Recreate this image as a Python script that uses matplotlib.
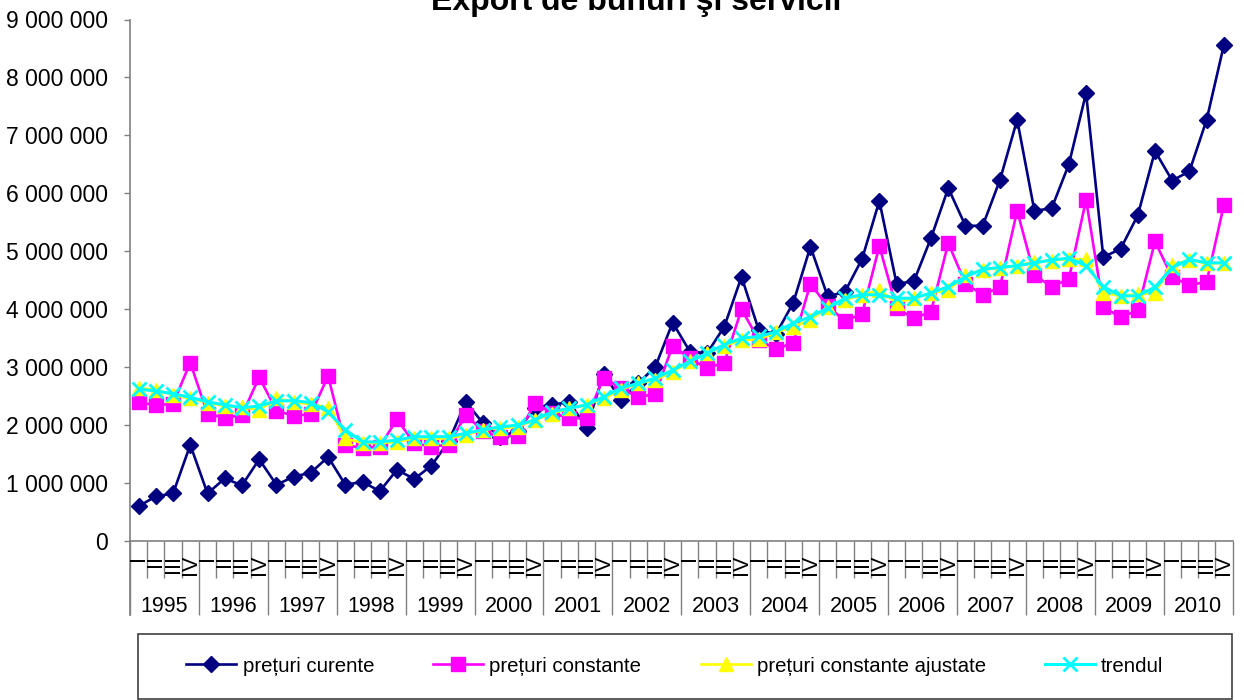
import matplotlib
matplotlib.use('Agg')
import matplotlib.pyplot as plt
from matplotlib.patches import Rectangle
from matplotlib.ticker import FuncFormatter

plt.rcParams['font.family'] = ['Liberation Sans', 'DejaVu Sans']

title = 'Export de bunuri şi servicii'
years = [str(y) for y in range(1995, 2011)]
quarters = ['I', 'II', 'III', 'IV']
series_names = ['prețuri curente', 'prețuri constante',
                'prețuri constante ajustate', 'trendul']

preturi_curente = [
    600000, 770000, 820000, 1660000,
    820000, 1080000, 960000, 1410000,
    970000, 1110000, 1180000, 1450000,
    970000, 1020000, 860000, 1230000,
    1070000, 1300000, 1720000, 2400000,
    2030000, 1800000, 1900000, 2300000,
    2350000, 2400000, 1950000, 2890000,
    2430000, 2720000, 3010000, 3770000,
    3270000, 3240000, 3700000, 4560000,
    3640000, 3570000, 4110000, 5080000,
    4220000, 4300000, 4870000, 5870000,
    4440000, 4480000, 5230000, 6090000,
    5440000, 5440000, 6230000, 7270000,
    5700000, 5740000, 6500000, 7730000,
    4900000, 5040000, 5620000, 6730000,
    6220000, 6380000, 7270000, 8560000]

preturi_constante = [
    2400000, 2340000, 2370000, 3080000,
    2190000, 2130000, 2170000, 2830000,
    2250000, 2160000, 2190000, 2850000,
    1660000, 1600000, 1630000, 2100000,
    1690000, 1630000, 1660000, 2180000,
    1890000, 1800000, 1820000, 2380000,
    2210000, 2120000, 2120000, 2820000,
    2640000, 2480000, 2540000, 3370000,
    3150000, 2980000, 3080000, 4000000,
    3470000, 3310000, 3420000, 4440000,
    4050000, 3800000, 3920000, 5090000,
    4020000, 3840000, 3960000, 5140000,
    4440000, 4250000, 4380000, 5700000,
    4590000, 4390000, 4520000, 5890000,
    4040000, 3860000, 3980000, 5170000,
    4550000, 4420000, 4470000, 5800000]

preturi_constante_ajustate = [
    2640000, 2610000, 2520000, 2460000,
    2390000, 2330000, 2310000, 2260000,
    2460000, 2400000, 2360000, 2300000,
    1770000, 1690000, 1690000, 1710000,
    1770000, 1770000, 1770000, 1830000,
    1920000, 1950000, 1970000, 2090000,
    2200000, 2290000, 2350000, 2460000,
    2610000, 2720000, 2780000, 2920000,
    3100000, 3240000, 3370000, 3470000,
    3480000, 3600000, 3700000, 3810000,
    4040000, 4160000, 4250000, 4330000,
    4110000, 4190000, 4280000, 4330000,
    4590000, 4680000, 4720000, 4750000,
    4820000, 4840000, 4870000, 4860000,
    4280000, 4230000, 4260000, 4280000,
    4760000, 4850000, 4790000, 4800000]

trendul = [
    2620000, 2590000, 2540000, 2480000,
    2400000, 2350000, 2300000, 2330000,
    2420000, 2420000, 2390000, 2230000,
    1920000, 1710000, 1710000, 1740000,
    1800000, 1800000, 1800000, 1860000,
    1920000, 1970000, 2000000, 2090000,
    2230000, 2290000, 2350000, 2490000,
    2640000, 2720000, 2810000, 2950000,
    3100000, 3240000, 3390000, 3500000,
    3530000, 3610000, 3760000, 3870000,
    4020000, 4190000, 4250000, 4250000,
    4190000, 4190000, 4280000, 4390000,
    4560000, 4690000, 4720000, 4750000,
    4800000, 4850000, 4880000, 4750000,
    4390000, 4230000, 4230000, 4380000,
    4720000, 4860000, 4800000, 4800000]

y_ticks = [0, 1000000, 2000000, 3000000, 4000000, 5000000,
           6000000, 7000000, 8000000, 9000000]

W, H = 1244, 700
fig = plt.figure(figsize=(W / 100, H / 100), dpi=100)
ax_l, ax_r, ax_t, ax_b = 130, 1232.5, 19.5, 541
ax = fig.add_axes([ax_l / W, 1 - ax_b / H, (ax_r - ax_l) / W, (ax_b - ax_t) / H])

n = len(years) * len(quarters)
x = list(range(n))
FS = 15.5
gray = '#808080'

h1, = ax.plot(x, preturi_curente, color='#000080', lw=1.9, marker='D', ms=8,
              mfc='#000080', mec='#000080', zorder=3)
h2, = ax.plot(x, preturi_constante, color='#FF00FF', lw=1.9, marker='s', ms=10,
              mfc='#FF00FF', mec='#FF00FF', zorder=4)
h3, = ax.plot(x, preturi_constante_ajustate, color='#FFFF00', lw=1.9, marker='^', ms=10,
              mfc='#FFFF00', mec='#FFFF00', zorder=5)
h4, = ax.plot(x, trendul, color='#00FFFF', lw=2.2, marker='x', ms=10, mew=2.0,
              mfc='#00FFFF', mec='#00FFFF', zorder=6)

ax.set_xlim(-0.5, n - 0.5)
ax.set_ylim(0, 9000000)
ax.set_yticks(y_ticks)
ax.yaxis.set_major_formatter(FuncFormatter(lambda v, p: f'{int(v):,}'.replace(',', ' ')))
ax.tick_params(axis='y', direction='out', length=4, width=1, color=gray,
               labelsize=16.5, pad=12)

year_bounds = [k * len(quarters) - 0.5 for k in range(len(years) + 1)]
q_bounds = [k - 0.5 for k in range(n + 1)]
ax.set_xticks(year_bounds)
ax.set_xticks(q_bounds, minor=True)
ax.set_xticklabels([])
ax.tick_params(axis='x', which='major', direction='out', length=53, width=1, color=gray)
ax.tick_params(axis='x', which='minor', direction='out', length=26.5, width=1, color=gray)

for s in ['top', 'right']:
    ax.spines[s].set_visible(False)
for s in ['left', 'bottom']:
    ax.spines[s].set_color(gray)
    ax.spines[s].set_linewidth(1.2)

# left spine extension down through category rows
ax.plot([-0.5, -0.5], [0, -(615 - ax_b) / (ax_b - ax_t)], color=gray, lw=1.2,
        transform=ax.get_xaxis_transform(), clip_on=False)

xt = ax.get_xaxis_transform()
unit = 1.0 / (ax_b - ax_t)
for i in range(n):
    ax.text(i, -(555 - ax_b) * unit, quarters[i % 4], rotation=90, ha='center',
            va='top', fontsize=FS, transform=xt, clip_on=False)
for k, yl in enumerate(years):
    ax.text(k * 4 + 1.5, -(606 - ax_b) * unit, yl, ha='center', va='center',
            fontsize=FS, transform=xt)

fig.text(636 / W, 1 - 10 / H, title, ha='center', va='baseline',
         fontsize=23, fontweight='bold')

leg = fig.legend([h1, h2, h3, h4], series_names, loc='center',
                 bbox_to_anchor=(675 / W, 1 - 666 / H), ncol=4, frameon=False,
                 fontsize=14.7, handlelength=2.45, handletextpad=0.3,
                 columnspacing=2.9)
fig.add_artist(Rectangle((137.7 / W, 1 - 699 / H), (1232 - 137.7) / W, 65 / H,
                         transform=fig.transFigure, fill=False, edgecolor='#404040',
                         lw=1.2))

fig.savefig('out.png', dpi=100)
